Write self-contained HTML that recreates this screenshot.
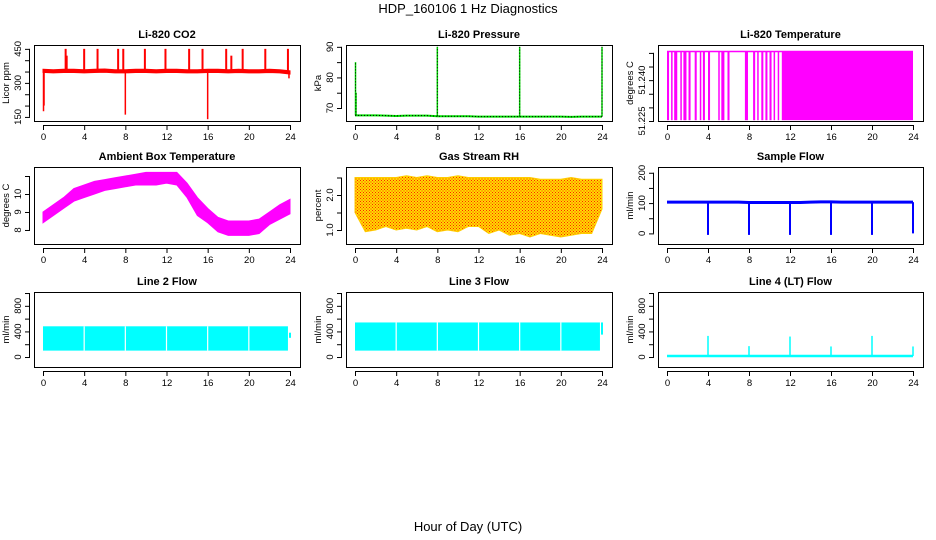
<!DOCTYPE html>
<html><head><meta charset="utf-8"><style>
html,body{margin:0;padding:0;background:#fff}
svg{display:block;font-family:"Liberation Sans",sans-serif}
</style></head><body>
<svg id="c" width="936" height="540" viewBox="0 0 936 540">
<defs>
<pattern id="rhpat" width="3" height="3" patternUnits="userSpaceOnUse">
<rect width="3" height="3" fill="#ffdd00"/>
<rect x="0" y="0" width="1" height="1" fill="#ff2200"/>
<rect x="1.5" y="1.5" width="1" height="1" fill="#ff2200"/>
</pattern>
</defs>
<text x="468" y="13" text-anchor="middle" font-size="13">HDP_160106  1 Hz Diagnostics</text>
<text x="468" y="531" text-anchor="middle" font-size="13">Hour of Day (UTC)</text>
</svg>
<script>
const hours=[0,1,2,3,4,5,6,7,8,9,10,11,12,13,14,15,16,17,18,19,20,21,22,23,24];
const xTicks=[0,4,8,12,16,20,24];
// CO2
const co2Base=[352,350,352,352,350,352,353,350,350,352,352,350,352,352,350,350,352,352,350,352,350,350,352,350,345];
const co2SpikeHours=[2.2,2.3,4.0,5.3,7.3,7.8,9.9,11.9,14.2,15.5,17.8,18.3,19.4,21.6,23.8];
const co2SpikeVals=[450,420,450,450,450,450,450,450,450,450,450,420,450,450,450];
const co2DropHours=[0.05,0.1,8.0,16.0,23.9];
const co2DropVals=[175,200,160,140,320];
// Pressure
const presBase=[67.6,67.6,67.6,67.5,67.4,67.5,67.5,67.5,67.3,67.3,67.3,67.3,67.2,67.2,67.2,67.2,67.2,67.2,67.2,67.2,67.2,67.1,67.2,67.2,67.2];
const presSpikeHours=[0.05,0.1,8.0,16.0,24.0];
const presSpikeVals=[85,75,90,90,90];
// Temperature: high band segments
const tempStarts=[0.0,0.4,0.7,1.3,1.6,2.1,2.7,3.2,3.5,4.0,5.0,5.3,5.9,7.6,8.4,8.8,9.2,9.6,10.0,10.4,10.8,11.2];
const tempEnds=[0.2,0.5,1.0,1.4,1.9,2.3,2.9,3.3,3.7,4.2,5.1,5.6,6.1,7.9,8.6,8.9,9.4,9.8,10.2,10.5,10.9,24.0];
const tempLo=51.2253, tempHi=51.2505;
// Ambient
const ambLo=[8.4,8.8,9.2,9.6,9.8,10.0,10.2,10.3,10.4,10.5,10.5,10.5,10.6,10.5,9.8,8.8,8.4,7.9,7.7,7.7,7.7,7.8,8.3,8.6,8.9];
const ambHi=[9.0,9.4,9.8,10.3,10.5,10.7,10.8,10.9,11.0,11.1,11.2,11.2,11.2,11.2,10.6,9.8,9.2,8.7,8.5,8.5,8.5,8.6,9.0,9.4,9.7];
// RH
const rhLo=[1.5,0.95,1.0,1.1,1.0,1.05,1.0,1.1,0.95,1.0,0.95,1.1,1.1,0.9,1.0,0.85,0.9,0.8,0.9,0.85,0.8,0.85,0.9,0.9,1.6];
const rhHi=[2.5,2.5,2.5,2.5,2.5,2.55,2.5,2.55,2.5,2.5,2.55,2.5,2.5,2.5,2.5,2.5,2.5,2.5,2.45,2.45,2.45,2.5,2.45,2.45,2.45];
// Sample flow
const sfBase=[103,103,103,103,103,103,103,103,102,102,102,102,102,102,103,104,104,103,103,103,103,103,103,103,103];
const sfDipHours=[4,8,12,16,20,24];
const sfDipVals=[-5,-5,-5,-5,-5,0];
// Line flows
const gapHours=[4,8,12,16,20];
const l2Lo=100, l2Hi=480, l2End=23.8;
const l3Lo=100, l3Hi=540, l3End=23.8;
const l4Base=15;
const l4SpikeHours=[4,8,12,16,20,24];
const l4SpikeVals=[330,170,320,165,330,165];

const NS='http://www.w3.org/2000/svg';
const svg=document.getElementById('c');
function mk(tag,attrs,parent){const e=document.createElementNS(NS,tag);for(const k in attrs)e.setAttribute(k,attrs[k]);(parent||svg).appendChild(e);return e;}
const cols=[{b0:34,b1:300,x0:43,x24:290},{b0:346,b1:612,x0:355,x24:602},{b0:658,b1:923,x0:667,x24:913}];
const rows=[{t:45,b:121},{t:167,b:244},{t:292,b:367}];
function panel(ci,ri,title,ylab,ymin,ymax,ticks,labels,name){
  const c=cols[ci],r=rows[ri];
  const g=mk('g',{});
  
  
  const X=h=>c.x0+(c.x24-c.x0)*h/24;
  const Y=v=>r.b-(v-ymin)/(ymax-ymin)*(r.b-r.t);
  const t=mk('text',{x:(c.b0+c.b1)/2,y:r.t-7,'text-anchor':'middle','font-size':11,'font-weight':'bold'},g);t.textContent=title;
  
  
  const data=mk('g',{},g);
  const ax=mk('g',{stroke:'#000','stroke-width':1,fill:'none'},g);
  mk('rect',{x:c.b0+.5,y:r.t+.5,width:c.b1-c.b0,height:r.b-r.t},ax);
  mk('line',{x1:X(0),x2:X(24),y1:r.b+4.5,y2:r.b+4.5},ax);
  xTicks.forEach(h=>{mk('line',{x1:X(h)+.5,x2:X(h)+.5,y1:r.b+4,y2:r.b+9},ax);
    const l=mk('text',{x:X(h)+.5,y:r.b+19,'text-anchor':'middle','font-size':9.5,fill:'#000',stroke:'none'},g);l.textContent=h;
    
    });
  mk('line',{x1:c.b0-4.5,x2:c.b0-4.5,y1:Y(ticks[0]),y2:Y(ticks[ticks.length-1])},ax);
  ticks.forEach(v=>{mk('line',{x1:c.b0-9,x2:c.b0-4,y1:Y(v)+.5,y2:Y(v)+.5},ax);});
  labels.forEach(v=>{const yy=Y(v);const l=mk('text',{x:0,y:0,transform:`translate(${c.b0-13},${yy}) rotate(-90)`,'text-anchor':'middle','font-size':9.5},g);l.textContent=v;
    
    });
  const yl=mk('text',{x:0,y:0,transform:`translate(${c.b0-25},${(r.t+r.b)/2}) rotate(-90)`,'text-anchor':'middle','font-size':9.5},g);yl.textContent=ylab;
  
  
  return {X,Y,g:data};
}
function band(p,xs,lo,hi,fill,stroke){let d='';xs.forEach((h,i)=>{d+=(i?'L':'M')+p.X(h)+' '+p.Y(hi[i]);});for(let i=xs.length-1;i>=0;i--)d+='L'+p.X(xs[i])+' '+p.Y(lo[i]);d+='Z';
  const e=mk('path',{d,fill,stroke:stroke||fill,'stroke-width':1},p.g);return e;}
function line(p,xs,ys,col,w){const e=mk('polyline',{points:xs.map((h,i)=>p.X(h)+','+p.Y(ys[i])).join(' '),fill:'none',stroke:col,'stroke-width':w||1},p.g);return e;}
function vseg(p,h,v0,v1,col,w,dash){const a={x1:p.X(h),x2:p.X(h),y1:p.Y(v0),y2:p.Y(v1),stroke:col,'stroke-width':w||1};if(dash)a['stroke-dasharray']=dash;return mk('line',a,p.g);}

// CO2
let p=panel(0,0,'Li-820 CO2','Licor ppm',132,467,[150,200,250,300,350,400,450],[150,300,450],'co2-panel');
band(p,hours,co2Base.map(v=>v-6),co2Base.map(v=>v+8),'#ff0000');
line(p,hours,co2Base,'#ff0000',1.5);
co2SpikeHours.forEach((h,i)=>{const e=vseg(p,h,co2Base[Math.round(h)],co2SpikeVals[i],'#ff0000',2);});
co2DropHours.forEach((h,i)=>{const e=vseg(p,h,co2Base[Math.round(h)],co2DropVals[i],'#ff0000',1.5);});

// Pressure
p=panel(1,0,'Li-820 Pressure','kPa',65.75,90.6,[70,75,80,85,90],[70,80,90],'pressure-panel');
line(p,hours,presBase,'#00dd00',2);
line(p,hours,presBase,'#000',1).setAttribute('stroke-dasharray','1 2');
presSpikeHours.forEach((h,i)=>{vseg(p,h,presBase[Math.round(h)],presSpikeVals[i],'#00dd00',1.5);const e=vseg(p,h,presBase[Math.round(h)],presSpikeVals[i],'#000',1,'1 2');});

// Temperature
p=panel(2,0,'Li-820 Temperature','degrees C',51.225,51.2529,[51.225,51.230,51.235,51.240,51.245,51.250],['51.225','51.240'],'temperature-panel');
line(p,[0,24],[tempHi,tempHi],'#ff00ff',1.5);
tempStarts.forEach((s,i)=>{const e=mk('rect',{x:p.X(s),y:p.Y(tempHi),width:Math.max(1.5,p.X(tempEnds[i])-p.X(s)),height:p.Y(tempLo)-p.Y(tempHi),fill:'#ff00ff'},p.g);
  
  });

// Ambient
p=panel(0,1,'Ambient Box Temperature','degrees C',7.22,11.5,[8,9,10,11],[8,9,10],'ambient-panel');
band(p,hours,ambLo,ambHi,'#ff00ff');

// RH
p=panel(1,1,'Gas Stream RH','percent',0.6,2.8,[1.0,1.5,2.0,2.5],['1.0','2.0'],'rh-panel');
band(p,hours,rhLo,rhHi,'url(#rhpat)','#ffcc00');

// Sample flow
p=panel(2,1,'Sample Flow','ml/min',-35,219,[0,50,100,150,200],[0,100,200],'sample-flow-panel');
line(p,hours,sfBase,'#0000ff',3);
sfDipHours.forEach((h,i)=>{const e=vseg(p,h,sfBase[Math.min(24,h)],sfDipVals[i],'#0000ff',2);});

function flow(ci,title,lo,hi,end,name,extra){
  const q=panel(ci,2,title,'ml/min',-156,1016,[0,200,400,600,800,1000],[0,400,800],name);
  const e=mk('rect',{x:q.X(0),y:q.Y(hi),width:q.X(end)-q.X(0),height:q.Y(lo)-q.Y(hi),fill:'#00ffff'},q.g);
  
  
  gapHours.forEach(h=>vseg(q,h,lo,hi,'#fff',1.2));
  if(extra)vseg(q,24,extra[0],extra[1],'#00ffff',2);
  return q;}
flow(0,'Line 2 Flow',l2Lo,l2Hi,l2End,'line2-panel',[300,380]);
flow(1,'Line 3 Flow',l3Lo,l3Hi,l3End,'line3-panel',[350,540]);
p=panel(2,2,'Line 4 (LT) Flow','ml/min',-156,1016,[0,200,400,600,800,1000],[0,400,800],'line4-panel');
line(p,[0,24],[l4Base,l4Base],'#00ffff',2.5);
l4SpikeHours.forEach((h,i)=>{const e=vseg(p,h,l4Base,l4SpikeVals[i],'#00ffff',1.5);});
</script>
</body></html>
